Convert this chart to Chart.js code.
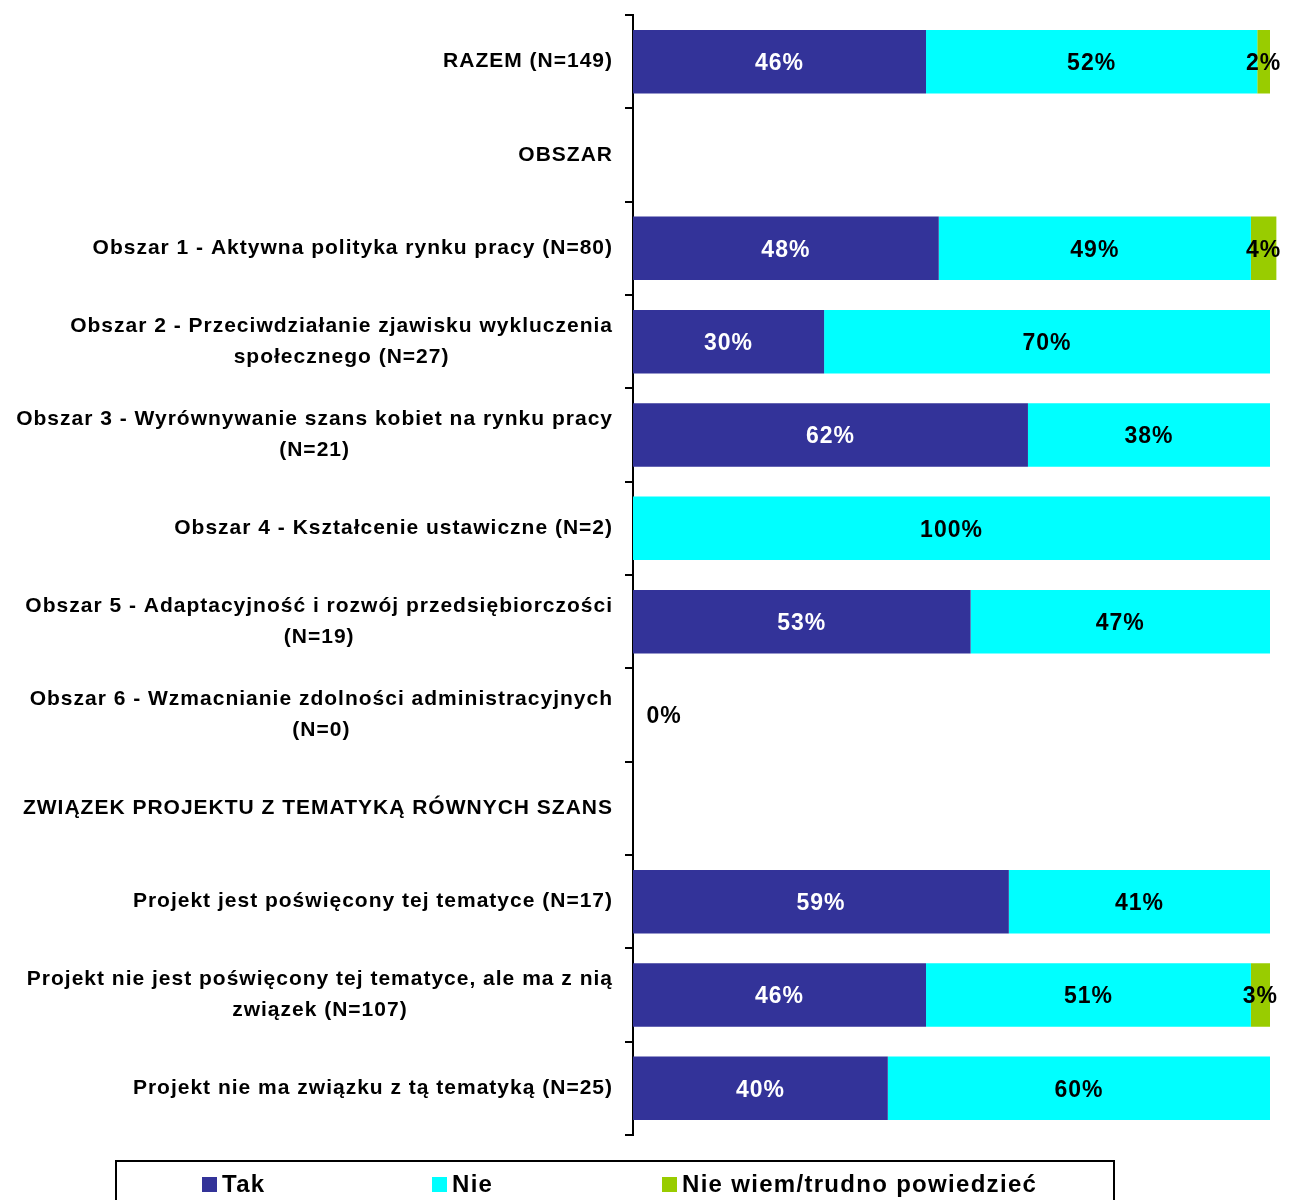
<!DOCTYPE html>
<html lang="pl">
<head>
<meta charset="utf-8">
<script src="https://cdn.jsdelivr.net/npm/chart.js@4.4.1/dist/chart.umd.min.js"></script>
<style>
    body { margin: 0; background: #fff; }
    #wrap { position: relative; width: 1299px; height: 1200px; overflow: hidden; }
    #legend {
        position: absolute; left: 115px; top: 1160px; width: 1000px; height: 60px;
        border: 2px solid #000; box-sizing: border-box;
    }
</style>
</head>
<body>
<div id="wrap">
    <canvas id="equalChances" width="1299" height="1200"></canvas>
    <div id="legend"></div>
</div>
<script>
const categories = [
    ['RAZEM (N=149)'],
    ['OBSZAR'],
    ['Obszar 1 - Aktywna polityka rynku pracy (N=80)'],
    ['Obszar 2 - Przeciwdziałanie zjawisku wykluczenia', 'społecznego (N=27)'],
    ['Obszar 3 - Wyrównywanie szans kobiet na rynku pracy', '(N=21)'],
    ['Obszar 4 - Kształcenie ustawiczne (N=2)'],
    ['Obszar 5 - Adaptacyjność i rozwój przedsiębiorczości', '(N=19)'],
    ['Obszar 6 - Wzmacnianie zdolności administracyjnych', '(N=0)'],
    ['ZWIĄZEK PROJEKTU Z TEMATYKĄ RÓWNYCH SZANS'],
    ['Projekt jest poświęcony tej tematyce (N=17)'],
    ['Projekt nie jest poświęcony tej tematyce, ale ma z nią', 'związek (N=107)'],
    ['Projekt nie ma związku z tą tematyką (N=25)']
];

const seriesNames = ['Tak', 'Nie', 'Nie wiem/trudno powiedzieć'];
const seriesColors = ['#333399', '#00FFFF', '#99CC00'];
const labelColors = ['#FFFFFF', '#000000', '#000000'];

// percentages, null = no segment
const tak = [46, null, 48, 30, 62, null, 53, 0, null, 59, 46, 40];
const nie = [52, null, 49, 70, 38, 100, 47, null, null, 41, 51, 60];
const nieWiem = [2, null, 4, null, null, null, null, null, null, null, 3, null];

const FONT = '"Liberation Sans", Arial, sans-serif';

const categoryLabelsPlugin = {
    id: 'categoryLabels',
    afterDraw(chart) {
        const ctx = chart.ctx;
        const yScale = chart.scales.y;
        const right = chart.chartArea.left - 20;
        const lineHeight = 31;
        ctx.save();
        ctx.font = 'bold 21px ' + FONT;
        ctx.letterSpacing = '1px';
        ctx.fillStyle = '#000';
        ctx.textAlign = 'center';
        ctx.textBaseline = 'middle';
        categories.forEach((lines, i) => {
            const y = yScale.getPixelForValue(i);
            const maxW = Math.max(...lines.map(l => ctx.measureText(l).width));
            const cx = right - maxW / 2;
            const top = y - (lines.length - 1) * lineHeight / 2;
            lines.forEach((line, j) => {
                ctx.fillText(line, cx, top + j * lineHeight);
            });
        });
        ctx.restore();
    }
};

const valueLabelsPlugin = {
    id: 'valueLabels',
    afterDatasetsDraw(chart) {
        const ctx = chart.ctx;
        ctx.save();
        ctx.font = 'bold 23px ' + FONT;
        ctx.letterSpacing = '1px';
        ctx.textAlign = 'center';
        ctx.textBaseline = 'middle';
        chart.data.datasets.forEach((ds, d) => {
            const meta = chart.getDatasetMeta(d);
            meta.data.forEach((bar, i) => {
                const v = ds.data[i];
                if (v === null || v === undefined) return;
                let x = (bar.x + bar.base) / 2;
                ctx.fillStyle = labelColors[d];
                if (v === 0) {
                    x = bar.base + 31;
                    ctx.fillStyle = '#000';
                }
                ctx.fillText(v + '%', x, bar.y + 2);
            });
        });
        ctx.restore();
    }
};

const ctx = document.getElementById('equalChances').getContext('2d');

new Chart(ctx, {
    type: 'bar',
    data: {
        labels: categories.map(c => c.join(' ')),
        datasets: [tak, nie, nieWiem].map((data, i) => ({
            label: seriesNames[i],
            data,
            backgroundColor: seriesColors[i],
            borderWidth: 0,
            barPercentage: 0.68,
            categoryPercentage: 1,
            clip: false
        }))
    },
    options: {
        indexAxis: 'y',
        responsive: false,
        animation: false,
        layout: { padding: { top: 15, right: 29, bottom: 65, left: 0 } },
        plugins: {
            legend: { display: false },
            tooltip: { enabled: false }
        },
        scales: {
            x: {
                display: false,
                stacked: true,
                min: 0,
                max: 100
            },
            y: {
                stacked: true,
                grid: {
                    offset: true,
                    drawOnChartArea: false,
                    color: '#000',
                    lineWidth: 2,
                    tickLength: 8
                },
                border: { color: '#000', width: 2 },
                ticks: { callback: () => '', padding: 0 },
                afterFit(scale) { scale.width = 633; }
            }
        }
    },
    plugins: [categoryLabelsPlugin, valueLabelsPlugin]
});

// Legend
const legend = document.getElementById('legend');
const ul = document.createElement('ul');
ul.style.display = 'flex';
ul.style.margin = 0;
ul.style.padding = '0 0 0 85px';
ul.style.listStyle = 'none';
seriesNames.forEach((name, i) => {
    const li = document.createElement('li');
    li.style.display = 'flex';
    li.style.alignItems = 'center';
    li.style.width = '230px';
    li.style.flexShrink = 0;
    li.style.marginTop = '8px';

    const box = document.createElement('span');
    box.style.display = 'inline-block';
    box.style.width = '15px';
    box.style.height = '15px';
    box.style.background = seriesColors[i];
    box.style.marginRight = '5px';
    box.style.flexShrink = 0;

    const text = document.createElement('span');
    text.textContent = name;
    text.style.font = 'bold 24px ' + FONT;
    text.style.letterSpacing = '1.3px';
    text.style.whiteSpace = 'nowrap';

    li.appendChild(box);
    li.appendChild(text);
    ul.appendChild(li);
});
legend.appendChild(ul);
</script>
</body>
</html>
